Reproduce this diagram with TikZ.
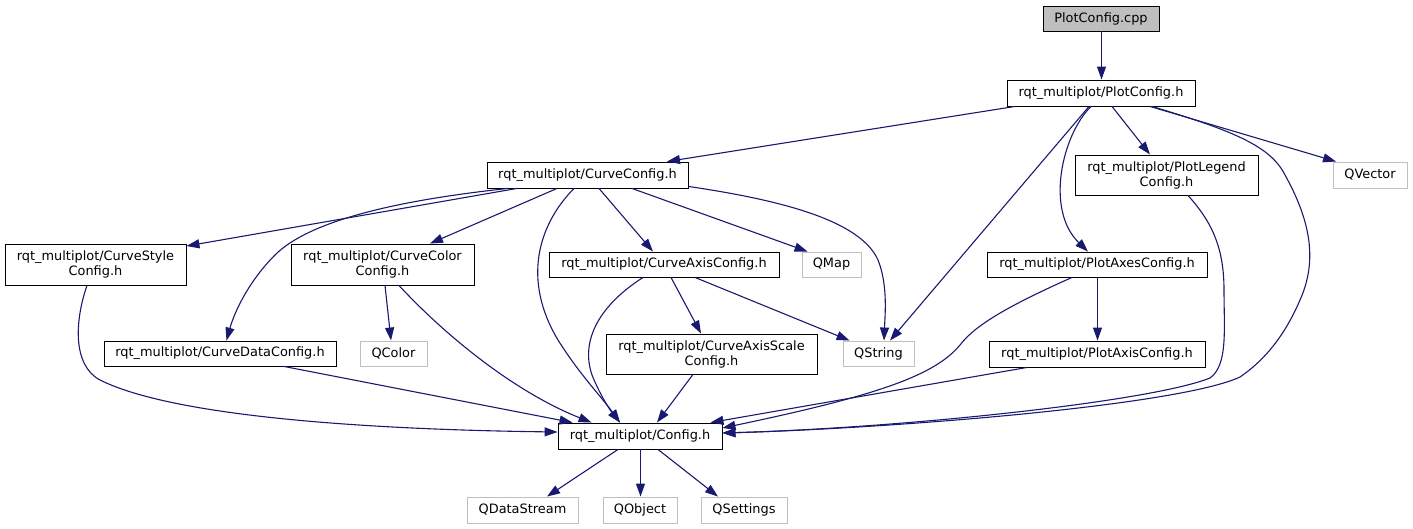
\documentclass[tikz,border=0pt]{standalone}
\usepackage{fontspec}
\setmainfont{DejaVu Sans}
\usetikzlibrary{arrows.meta,calc}
\definecolor{edgecol}{HTML}{191970}
\definecolor{lightbd}{HTML}{BFBFBF}
\definecolor{cppfill}{HTML}{BFBFBF}
\begin{document}
\begin{tikzpicture}[x=1pt,y=-1pt,
  filebox/.style={draw=black, line width=0.9pt, fill=white, inner sep=0pt, align=center,
    font=\fontsize{12.9}{15}\selectfont},
  extbox/.style={filebox, draw=lightbd},
  dep/.style={draw=edgecol, line width=1.1pt, -{Triangle[length=13pt,width=9pt]}}]
\useasboundingbox (0,0) rectangle (1413,529);

\node[filebox, fill=cppfill, minimum width=116pt, minimum height=25pt] (cpp) at (1101,18.5) {PlotConfig.cpp};
\node[filebox, minimum width=188pt, minimum height=26pt] (plotcfg) at (1101,93) {rqt\_multiplot/PlotConfig.h};
\node[filebox, minimum width=183pt, minimum height=40pt] (legend) at (1166.5,175) {rqt\_multiplot/PlotLegend\\Config.h};
\node[extbox, minimum width=74pt, minimum height=26pt] (qvector) at (1370,175) {QVector};
\node[filebox, minimum width=201pt, minimum height=26pt] (curvecfg) at (587.5,175) {rqt\_multiplot/CurveConfig.h};
\node[filebox, minimum width=181pt, minimum height=41pt] (style) at (95.5,264.5) {rqt\_multiplot/CurveStyle\\Config.h};
\node[filebox, minimum width=183pt, minimum height=41pt] (color) at (382.5,264.5) {rqt\_multiplot/CurveColor\\Config.h};
\node[filebox, minimum width=232pt, minimum height=25pt] (data) at (220,353.5) {rqt\_multiplot/CurveDataConfig.h};
\node[extbox, minimum width=67pt, minimum height=25pt] (qcolor) at (393.5,353.5) {QColor};
\node[filebox, minimum width=230pt, minimum height=25pt] (axis) at (664,264.5) {rqt\_multiplot/CurveAxisConfig.h};
\node[extbox, minimum width=59pt, minimum height=25pt] (qmap) at (831.5,264.5) {QMap};
\node[filebox, minimum width=211pt, minimum height=40pt] (scale) at (711.5,354) {rqt\_multiplot/CurveAxisScale\\Config.h};
\node[extbox, minimum width=71pt, minimum height=25pt] (qstring) at (878.5,353.5) {QString};
\node[filebox, minimum width=220pt, minimum height=25pt] (axes) at (1097,264.5) {rqt\_multiplot/PlotAxesConfig.h};
\node[filebox, minimum width=216pt, minimum height=26pt] (paxis) at (1097,354) {rqt\_multiplot/PlotAxisConfig.h};
\node[filebox, minimum width=164pt, minimum height=26pt] (config) at (640,436) {rqt\_multiplot/Config.h};
\node[extbox, minimum width=111pt, minimum height=26pt] (qds) at (522.5,510) {QDataStream};
\node[extbox, minimum width=74pt, minimum height=26pt] (qobj) at (640,510) {QObject};
\node[extbox, minimum width=86pt, minimum height=26pt] (qset) at (744,510) {QSettings};

% edges from PlotConfig.cpp / PlotConfig.h
\draw[dep] ($(cpp.south)+(0.5,0)$) -- ($(plotcfg.north)+(0.5,0)$);
\draw[dep] ($(plotcfg.south)+(-86,0)$) -- ($(curvecfg.north)+(79.5,0)$);
\draw[dep] ($(plotcfg.south)+(-12,0)$) -- ($(qstring.north)+(11.5,0)$);
\draw[dep] ($(plotcfg.south)+(-10,0)$) .. controls (1062,135) and (1045,210) .. ($(axes.north)+(-9,0)$);
\draw[dep] ($(plotcfg.south)+(11,0)$) -- ($(legend.north)+(-16.5,0)$);
\draw[dep] ($(plotcfg.south)+(49,0)$) -- ($(qvector.north west)+(3.5,0)$);
\draw[dep] ($(plotcfg.south)+(51,0)$) .. controls (1230,130) and (1270,145) .. (1285,175)
  .. controls (1310,220) and (1318,260) .. (1300,300)
  .. controls (1285,335) and (1265,360) .. (1240,377)
  .. controls (1180,405) and (900,428) .. ($(config.east)+(0,-3)$);

% PlotLegendConfig
\draw[dep] ($(legend.south)+(21.5,0)$) .. controls (1210,220) and (1224,245) .. (1224,290)
  .. controls (1224,330) and (1228,365) .. (1210,378)
  .. controls (1150,402) and (900,428) .. ($(config.east)+(0,-3)$);

% CurveConfig.h
\draw[dep] ($(curvecfg.south)+(-70.5,0)$) -- ($(style.north east)+(0,2.5)$);
\draw[dep] ($(curvecfg.south)+(-79.5,0)$) .. controls (400,200) and (310,220) .. (275,255)
  .. controls (250,280) and (235,310) .. ($(data.north)+(6.5,0)$);
\draw[dep] ($(curvecfg.south)+(-30.5,0)$) -- ($(color.north)+(47.5,0)$);
\draw[dep] ($(curvecfg.south)+(-13.5,0)$) .. controls (538,225) and (522,280) .. (558,340)
  .. controls (580,375) and (600,395) .. ($(config.north)+(-20,0)$);
\draw[dep] ($(curvecfg.south)+(11.5,0)$) -- ($(axis.north)+(-11,0)$);
\draw[dep] ($(curvecfg.south)+(44.5,0)$) -- ($(qmap.north west)+(6,0)$);
\draw[dep] ($(curvecfg.south east)+(0,-2)$) .. controls (780,200) and (860,220) .. (878,260)
  .. controls (888,285) and (885,315) .. ($(qstring.north)+(5.5,0)$);

% CurveStyleConfig
\draw[dep] ($(style.south)+(-8.5,0)$) .. controls (75,320) and (72,365) .. (100,380)
  .. controls (180,420) and (400,430) .. ($(config.west)+(0,-4)$);

% CurveColorConfig
\draw[dep] ($(color.south)+(2.5,0)$) -- ($(qcolor.north)+(-2.5,0)$);
\draw[dep] ($(color.south)+(16.5,0)$) .. controls (440,330) and (510,390) .. ($(config.north west)+(34,0)$);

% CurveDataConfig
\draw[dep] ($(data.south)+(64,0)$) -- ($(config.north west)+(15,0)$);

% CurveAxisConfig
\draw[dep] ($(axis.south)+(-21,0)$) .. controls (600,305) and (580,340) .. (592,375)
  .. controls (600,395) and (610,410) .. ($(config.north)+(-20,0)$);
\draw[dep] ($(axis.south)+(7,0)$) -- ($(scale.north)+(-10.5,0)$);
\draw[dep] ($(axis.south)+(31,0)$) -- ($(qstring.north west)+(7,0)$);

% CurveAxisScaleConfig
\draw[dep] ($(scale.south)+(-18.5,0)$) -- ($(config.north)+(17,0)$);

% PlotAxesConfig
\draw[dep] ($(axes.south)+(0.5,0)$) -- ($(paxis.north)+(0.5,0)$);
\draw[dep] ($(axes.south)+(-25,0)$) .. controls (1010,305) and (975,325) .. (960,345)
  .. controls (935,375) and (880,395) .. ($(config.east)+(0,-8)$);

% PlotAxisConfig
\draw[dep] ($(paxis.south)+(-70,0)$) -- ($(config.north east)+(-12,0)$);

% Config.h
\draw[dep] ($(config.south)+(-22,0)$) -- ($(qds.north)+(24.5,0)$);
\draw[dep] ($(config.south)+(0.5,0)$) -- ($(qobj.north)+(0.5,0)$);
\draw[dep] ($(config.south)+(18,0)$) -- ($(qset.north)+(-26,0)$);
\end{tikzpicture}
\end{document}
